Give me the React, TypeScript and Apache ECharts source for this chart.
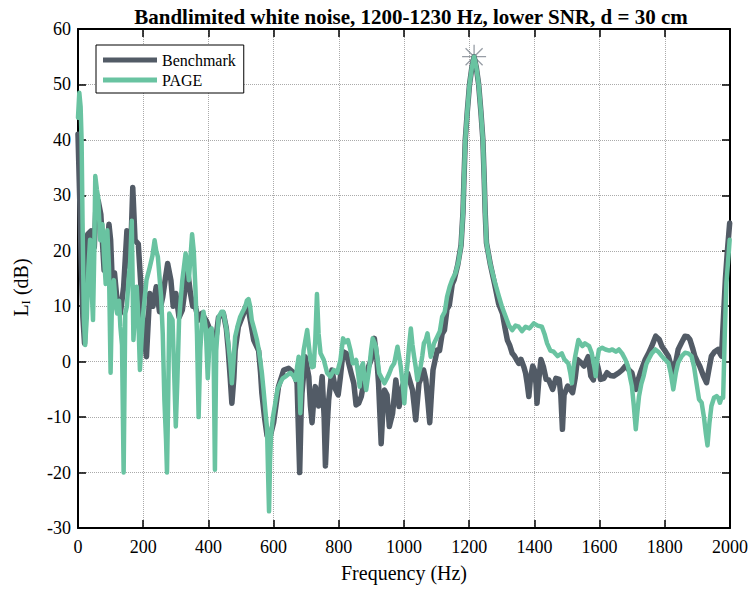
import React, { useEffect, useRef } from "react";
import * as echarts from "echarts";

const titleText = "Bandlimited white noise, 1200-1230 Hz, lower SNR, d = 30 cm";
const xTicks = { min: 0, max: 2000, interval: 200 };
const yTicks = { min: -30, max: 60, interval: 10 };
const seriesNames = ["Benchmark", "PAGE"];
const peakMarker: [number, number][] = [[1215, 55]];

const benchmark: [number, number][] = [
  [0, 41], [5, 30], [10, 18], [15, 8], [20, 3.3], [25, 12], [30, 23], [40, 23.6], [50, 20.6], [55, 28],
  [62, 29], [70, 26.6], [80, 16.5], [88, 19], [95, 24.8], [100, 22], [105, 14.7], [112, 16], [120, 11], [130, 8.7],
  [140, 13.5], [150, 23.6], [155, 22], [160, 17], [168, 31.4], [175, 21.9], [185, 21.2], [195, 11.7], [202, 5], [210, 0.9],
  [220, 12.3], [230, 10], [240, 13.5], [250, 9], [260, 11.7], [268, 15], [275, 17.7], [285, 14.7], [292, 10], [300, 12.3],
  [310, 8], [320, 9.3], [328, 13], [335, 17], [345, 12.3], [352, 10], [360, 9.9], [370, 7.5], [380, 8.7], [395, 7.2],
  [410, 5], [420, 2.7], [431, 8], [446, 8.7], [455, 6], [461, 2], [467, -3], [472, -7.5], [478, -3], [482, 2],
  [492, 6.3], [508, 8.7], [515, 10], [523, 9.3], [530, 7], [539, 3.9], [554, 2], [560, -2], [564, -5.7], [572, -10],
  [580, -13.4], [590, -13.4], [600, -11], [607, -8], [615, -4.5], [631, -1.5], [646, -1.2], [662, -2], [672, -3.9], [676, -12],
  [680, -20], [684, -10], [687, -5.7], [697, 0.9], [708, -2.7], [713, -8], [718, -11], [723, -7], [728, -4.5], [738, -8],
  [745, -5], [749, -2.7], [755, -10], [759, -18.8], [764, -12], [769, -6.9], [779, -1.5], [790, -5], [798, -6], [805, -2.7],
  [813, 1.8], [823, 1.5], [838, -2.1], [846, -3.9], [853, -7.8], [861, -7.5], [869, -6.3], [876, -3.9], [884, -3.3], [891, -0.9],
  [899, 0.3], [909, 4.2], [917, 0.3], [922, -4], [930, -14.8], [935, -9], [940, -5.1], [948, -6], [955, -11.7], [965, -9.3],
  [975, -3.3], [985, -8.1], [995, -4.5], [1003, -3], [1011, -2.1], [1026, -5.1], [1036, -10.5], [1046, -3.9], [1054, -2.7], [1060, -1.5],
  [1067, -3.3], [1073, -7], [1079, -11], [1084, -6], [1089, -1.5], [1102, 2.1], [1109, 2], [1117, 5], [1124, 5.7], [1132, 9.5],
  [1139, 10.2], [1148, 14], [1154, 14.8], [1165, 17.5], [1175, 21], [1181, 27], [1184, 33], [1188, 40], [1194, 45], [1201, 50],
  [1208, 53], [1215, 55], [1222, 53], [1229, 50], [1236, 45], [1242, 40], [1246, 33], [1249, 27], [1253, 21.4], [1265, 17.5],
  [1278, 14], [1290, 10.5], [1302, 8.7], [1310, 6], [1317, 3.9], [1324, 3], [1332, 1.5], [1339, 1], [1352, -0.3], [1359, 0.4],
  [1368, -1], [1373, -2.1], [1378, -4], [1383, -6.3], [1388, -3], [1395, -0.8], [1400, -1.5], [1405, -4], [1408, -7.5], [1414, -3],
  [1420, 0.4], [1428, -1], [1436, -3.2], [1444, -3.3], [1456, -5], [1466, -3], [1476, -3.2], [1481, -6], [1486, -12.2], [1491, -6],
  [1502, -4.4], [1510, -5], [1517, -5.6], [1525, -3], [1532, 0.4], [1545, -0.3], [1552, -0.8], [1565, 0.9], [1573, -2.6], [1581, -3.3],
  [1588, 0.4], [1595, -1], [1603, -3.2], [1613, -3], [1623, -2], [1633, -2.5], [1643, -2.6], [1659, -2], [1669, -1.5], [1679, -0.8],
  [1690, -1.5], [1699, -2], [1705, -3.5], [1712, -5], [1717, -3.5], [1725, -2], [1740, 0.4], [1750, 1.5], [1760, 2.8], [1772, 4.6],
  [1783, 4], [1791, 2.8], [1800, 2], [1811, 1], [1818, -0.5], [1826, -2], [1834, 0], [1841, 2.2], [1852, 3.5], [1862, 4.6],
  [1870, 4.5], [1877, 4], [1885, 2.5], [1892, 1], [1900, 0], [1907, -0.8], [1918, -2.5], [1928, -3.8], [1935, -1.5], [1943, 1],
  [1953, 1.8], [1963, 2.2], [1969, 1.5], [1974, 1], [1980, 8], [1986, 15], [1992, 20], [1999, 25]
];

const page: [number, number][] = [
  [0, 44], [4, 48.5], [8, 46], [11, 40], [14, 25], [18, 8], [22, 3], [27, 8], [32, 17], [37, 22],
  [42, 13], [46, 7.5], [50, 20], [53, 33.5], [58, 31], [62, 29.6], [68, 21.9], [75, 24.8], [80, 18.9], [85, 14],
  [90, 23.7], [95, 17], [100, -2], [105, 13.5], [110, 14.7], [116, 10], [120, 8.7], [126, 11], [130, 6.3], [135, 3],
  [140, -20], [145, 8.7], [150, 10], [155, 14.7], [160, 18], [165, 25.4], [170, 3.9], [175, 9], [180, 13.5], [185, 8],
  [190, -1.5], [195, 4], [200, 8.7], [210, 14.7], [220, 17], [228, 19], [235, 21.9], [240, 20], [245, 18.9], [255, 11.7],
  [260, 5], [265, -6.9], [270, -14], [273, -20], [277, -5], [280, 8.7], [290, 7.5], [295, -2], [300, -11.7], [305, -3],
  [310, 7.5], [320, 14.7], [330, 19.5], [335, 18], [340, 14.7], [350, 23], [355, 20], [360, 13.5], [365, 5], [370, -10],
  [375, 2], [380, 7], [385, 9], [392, 6], [398, -3], [405, 5.7], [410, 6], [416, 2], [420, -19.5], [424, 2],
  [431, 8], [440, 9], [446, 9], [455, 6], [461, 3.3], [467, 0], [472, -3.9], [477, 0], [482, 4.5], [490, 6.5],
  [497, 8], [505, 9], [513, 9.9], [518, 11], [523, 11.3], [528, 10], [533, 7.5], [540, 6], [549, 3.9], [555, 2],
  [559, 0.3], [564, -2], [569, -5], [575, -9], [580, -12.2], [583, -20], [586, -27], [589, -18], [592, -13.4], [598, -10],
  [605, -7.5], [612, -5], [620, -3.9], [628, -3], [636, -2.7], [651, -2], [660, -2.5], [667, -3.3], [672, -1], [677, 0.9],
  [682, -9.3], [687, -2], [692, 2], [698, 4], [703, 5.7], [708, 3], [713, 0.3], [718, -1], [723, -0.9], [728, 4],
  [733, 12.2], [738, 5], [744, 1.5], [754, 0.3], [764, -2], [774, -2.7], [785, -1.5], [795, -2], [805, 0.3], [813, 4.2],
  [820, 3.5], [828, 3.9], [836, 2], [843, -0.3], [853, 0.3], [859, -2], [864, -4.5], [869, -1], [874, -0.3], [879, -3],
  [884, -5.1], [889, -3], [894, -0.9], [899, 2], [904, 4.2], [909, 3.5], [914, 2.7], [924, -2.1], [932, -3], [940, -3.9],
  [948, -3], [955, -2.1], [962, -1], [970, -0.3], [980, 2.7], [990, -0.9], [996, -4], [1001, -7.5], [1006, -3], [1011, -0.3],
  [1016, 3], [1021, 6], [1026, 3], [1031, 0.9], [1036, -1], [1041, -3.3], [1046, -2], [1051, -0.9], [1056, 1], [1061, 3.3],
  [1067, 4], [1072, 5.1], [1077, 3], [1082, 0.9], [1087, 2], [1092, 3.3], [1102, 4.5], [1110, 5.5], [1117, 8.1], [1125, 9],
  [1132, 11.7], [1140, 13.5], [1148, 14.8], [1158, 16], [1167, 18], [1175, 21], [1181, 27], [1184, 33], [1188, 40], [1194, 45],
  [1201, 50], [1208, 53], [1215, 55], [1222, 53], [1229, 50], [1236, 45], [1242, 40], [1246, 33], [1249, 27], [1253, 21.4],
  [1265, 17.5], [1278, 14.5], [1290, 12], [1300, 10], [1312, 8.1], [1322, 6.5], [1332, 5.7], [1342, 6.5], [1352, 6.3], [1362, 5.5],
  [1373, 6.3], [1385, 6], [1398, 6.9], [1410, 6.5], [1423, 6.3], [1431, 5], [1439, 3.3], [1449, 2], [1459, 1.8], [1471, 1],
  [1484, 1.5], [1492, 0.4], [1504, -0.3], [1510, -2], [1515, -3.9], [1520, -1], [1525, 0.9], [1535, 3.9], [1547, 2.8], [1555, 3.3],
  [1568, 2.8], [1576, 1.5], [1584, -1], [1588, -2.6], [1592, 0], [1598, 2.2], [1608, 2.5], [1618, 2.2], [1630, 2], [1639, 2.2],
  [1650, 1.8], [1659, 2.2], [1669, 1.5], [1679, 0.4], [1687, -0.8], [1694, -3], [1699, -4.4], [1705, -8], [1711, -12.2], [1716, -9],
  [1721, -6.2], [1728, -4], [1735, -2.6], [1743, -0.5], [1750, 0.4], [1760, 1.5], [1771, 2.2], [1780, 1.8], [1791, 1], [1800, 0.4],
  [1811, -0.2], [1818, -2], [1826, -5], [1834, -2], [1841, -0.2], [1852, 1], [1862, 1.6], [1872, 1.5], [1882, 1], [1890, -1],
  [1897, -3.8], [1905, -6.8], [1913, -7.4], [1920, -10], [1926, -13], [1931, -15.1], [1937, -11], [1943, -8], [1951, -6.5], [1959, -6.2],
  [1964, -6.5], [1969, -7.4], [1974, -6.5], [1979, -6.5], [1984, 5], [1989, 14.2], [1994, 18], [1999, 22]
];

const FONT = "'Liberation Serif', 'Times New Roman', serif";
const DARK = "#525b66";
const GREEN = "#69c3a1";

export default function App() {
  const ref = useRef<HTMLDivElement>(null);
  useEffect(() => {
    if (!ref.current) return;
    const chart = echarts.init(ref.current, undefined, { renderer: "svg" });
    const axisCommon = {
      type: "value" as const,
      axisLine: { show: true, onZero: false, lineStyle: { color: "#000", width: 2 } },
      axisTick: { show: true, inside: true, length: 8, lineStyle: { color: "#000", width: 1.5 } },
    };
    const plain = (v: number) => String(v);
    chart.setOption({
      animation: false,
      backgroundColor: "#fff",
      title: {
        text: titleText,
        left: 406,
        top: 1,
        textAlign: "center",
        textStyle: { fontFamily: FONT, fontSize: 21, fontWeight: "bold", color: "#000" },
      },
      grid: { left: 78, right: 16, top: 29, bottom: 61, containLabel: false },
      legend: {
        orient: "vertical",
        left: 96,
        top: 45,
        data: seriesNames.map((n) => ({ name: n, icon: "rect" })),
        itemWidth: 54,
        itemHeight: 5,
        itemGap: 4,
        padding: [7, 8, 5, 7],
        borderColor: "#000",
        borderWidth: 1,
        backgroundColor: "#fff",
        textStyle: { fontFamily: FONT, fontSize: 16, color: "#000" },
      },
      xAxis: [
        {
          ...axisCommon,
          min: xTicks.min,
          max: xTicks.max,
          interval: xTicks.interval,
          position: "bottom",
          name: "Frequency (Hz)",
          nameLocation: "middle",
          nameGap: 35,
          nameTextStyle: { fontFamily: FONT, fontSize: 20, color: "#000" },
          axisLabel: { margin: 10, fontFamily: FONT, fontSize: 18, color: "#000", formatter: plain },
          splitLine: { show: true, lineStyle: { type: "dotted", color: "#aaa", width: 1 } },
        },
        {
          ...axisCommon,
          min: xTicks.min,
          max: xTicks.max,
          interval: xTicks.interval,
          position: "top",
          axisLabel: { show: false },
          splitLine: { show: false },
        },
      ],
      yAxis: [
        {
          ...axisCommon,
          min: yTicks.min,
          max: yTicks.max,
          interval: yTicks.interval,
          position: "left",
          name: "{a|L}{b|I}{a| (dB)}",
          nameLocation: "middle",
          nameGap: 46,
          nameTextStyle: {
            fontFamily: FONT,
            color: "#000",
            padding: [0, 18, 0, 0],
            rich: {
              a: { fontFamily: FONT, fontSize: 20, color: "#000" },
              b: { fontFamily: FONT, fontSize: 13, color: "#000", padding: [10, 0, 0, 0] },
            },
          },
          axisLabel: { margin: 7, fontFamily: FONT, fontSize: 18, color: "#000", formatter: plain },
          splitLine: { show: true, lineStyle: { type: "dotted", color: "#aaa", width: 1 } },
        },
        {
          ...axisCommon,
          min: yTicks.min,
          max: yTicks.max,
          interval: yTicks.interval,
          position: "right",
          axisLabel: { show: false },
          splitLine: { show: false },
        },
      ],
      series: [
        {
          name: "peak",
          type: "scatter",
          xAxisIndex: 0,
          yAxisIndex: 0,
          data: peakMarker,
          symbol: "path://M10,0V20M0,10H20M2.9,2.9L17.1,17.1M2.9,17.1L17.1,2.9",
          symbolSize: 24,
          itemStyle: { color: "rgba(0,0,0,0)", borderColor: "#7d858e", borderWidth: 1.3 },
          z: 1,
          silent: true,
        },
        {
          name: seriesNames[0],
          type: "line",
          xAxisIndex: 0,
          yAxisIndex: 0,
          data: benchmark,
          showSymbol: false,
          symbol: "none",
          lineStyle: { color: DARK, width: 5.5, join: "round", cap: "round" },
          itemStyle: { color: DARK },
          z: 2,
        },
        {
          name: seriesNames[1],
          type: "line",
          xAxisIndex: 0,
          yAxisIndex: 0,
          data: page,
          showSymbol: false,
          symbol: "none",
          lineStyle: { color: GREEN, width: 4.5, join: "round", cap: "round" },
          itemStyle: { color: GREEN },
          z: 3,
        },
      ],
    });
    return () => chart.dispose();
  }, []);
  return (
    <div
      ref={ref}
      style={{ position: "fixed", left: 0, top: 0, width: 751, height: 589, background: "#fff" }}
    />
  );
}
